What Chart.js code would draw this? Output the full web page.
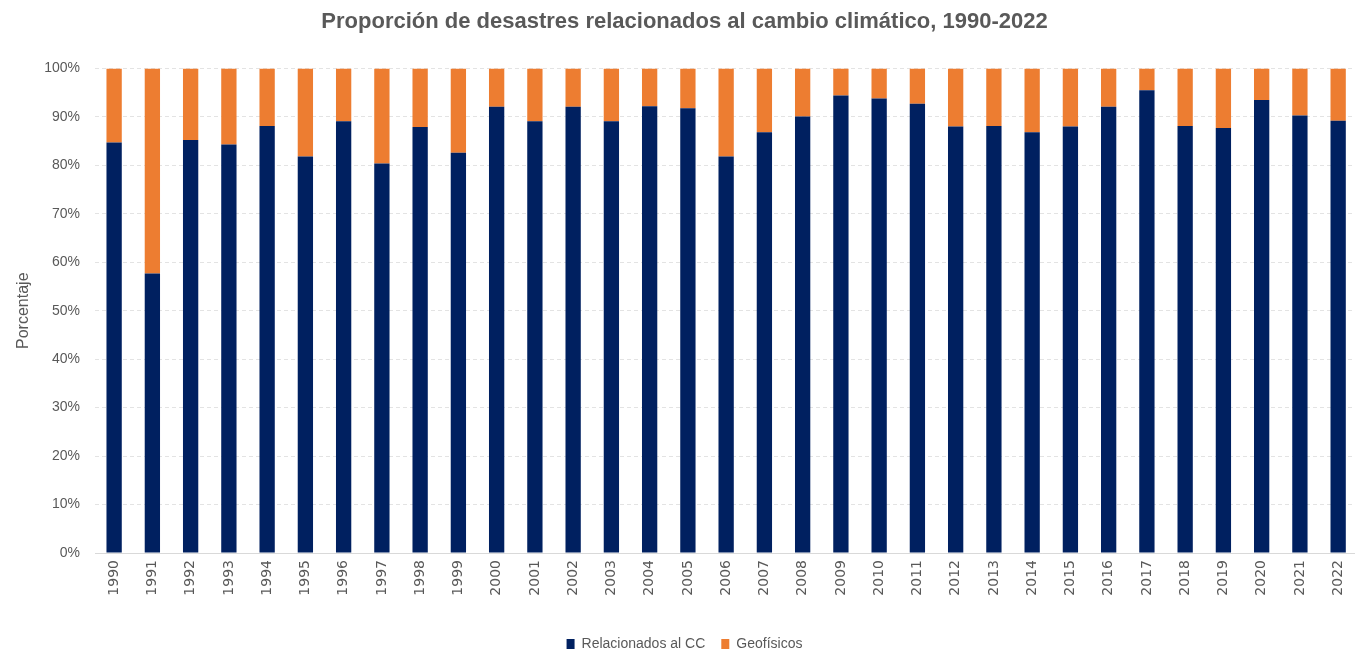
<!DOCTYPE html>
<html>
<head>
<meta charset="utf-8">
<script src="https://cdn.jsdelivr.net/npm/chart.js@4"></script>
<style>
html,body{margin:0;padding:0;background:#fff;overflow:hidden;}
#wrap{width:1355px;height:654px;position:relative;overflow:hidden;}
canvas{display:block;}
</style>
</head>
<body>
<div id="wrap"><canvas id="c" width="1362" height="654"></canvas></div>
<script>
const years = ["1990","1991","1992","1993","1994","1995","1996","1997","1998","1999","2000","2001","2002","2003","2004","2005","2006","2007","2008","2009","2010","2011","2012","2013","2014","2015","2016","2017","2018","2019","2020","2021","2022"];
const relacionadosCC = [84.7,57.7,85.2,84.3,88.1,81.8,89.1,80.4,87.9,82.6,92.1,89.1,92.1,89.1,92.2,91.8,81.8,86.8,90.1,94.4,93.8,92.7,88.0,88.1,86.8,88.0,92.1,95.5,88.1,87.7,93.5,90.3,89.2];
const geofisicos = relacionadosCC.map(v => +(100 - v).toFixed(1));
const yTicks = [0,10,20,30,40,50,60,70,80,90,100];

const FONT = "'Liberation Sans Narrow', 'Liberation Sans', sans-serif";
const GRAY = '#595959';

new Chart(document.getElementById('c'), {
  type: 'bar',
  data: {
    labels: years,
    datasets: [
      { label: 'Relacionados al CC', data: relacionadosCC, backgroundColor: '#002060', barPercentage: 0.4, categoryPercentage: 1.0 },
      { label: 'Geofísicos', data: geofisicos, backgroundColor: '#ED7D31', barPercentage: 0.4, categoryPercentage: 1.0 }
    ]
  },
  options: {
    responsive: false,
    animation: false,
    layout: { padding: { left: 10, right: 3, top: 4, bottom: -7 } },
    plugins: {
      title: {
        display: true,
        text: 'Proporción de desastres relacionados al cambio climático, 1990-2022',
        color: GRAY,
        font: { family: FONT, size: 22, weight: 'bold' },
        padding: { top: 5, bottom: 33 }
      },
      legend: {
        position: 'bottom',
        labels: {
          color: GRAY,
          font: { family: FONT, size: 14 },
          boxWidth: 8, boxHeight: 10,
          padding: 16
        }
      },
      tooltip: { enabled: false }
    },
    scales: {
      x: {
        stacked: true,
        grid: { display: false, drawTicks: false },
        border: { color: '#d9d9d9' },
        ticks: { color: GRAY, font: { family: "'DejaVu Sans', sans-serif", size: 14 }, minRotation: 90, maxRotation: 90, padding: 7 },
        afterFit: (axis) => { axis.height = 68; }
      },
      y: {
        stacked: true,
        min: 0, max: 100,
        afterBuildTicks: (axis) => { axis.ticks = yTicks.map(v => ({ value: v })); },
        afterFit: (axis) => { axis.width = 85; },
        grid: { color: '#e3e3e3', drawTicks: false },
        border: { display: false, dash: [4, 3] },
        ticks: { color: GRAY, font: { family: FONT, size: 14 }, callback: v => v + '%', padding: 15 },
        title: { display: true, text: 'Porcentaje', color: GRAY, font: { family: FONT, size: 16 }, padding: { bottom: 8 } }
      }
    }
  }
});
</script>
</body>
</html>
